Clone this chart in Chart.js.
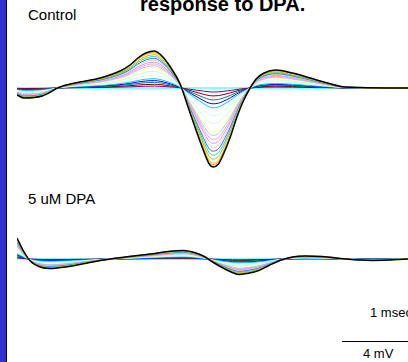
<!DOCTYPE html>
<html>
<head>
<meta charset="utf-8">
<script src="https://cdn.jsdelivr.net/npm/chart.js@4.4.1/dist/chart.umd.min.js"></script>
<style>
  html, body { margin: 0; padding: 0; background: #fff; width: 408px; height: 362px; overflow: hidden; }
  body { position: relative; font-family: "Liberation Sans", Arial, sans-serif; }
  .bar { position: absolute; left: 0; top: 0; width: 6px; height: 362px; background: #3333CC; }
  .barEdge { position: absolute; left: 6px; top: 0; width: 1px; height: 362px; background: #000; }
  .lbl { position: absolute; white-space: nowrap; color: #000; }
  #title { left: 140px; top: -6.5px; font-size: 20px; line-height: 20px; font-weight: bold; }
  #lblControl { left: 28px; top: 6.5px; font-size: 15px; line-height: 15px; }
  #lblDPA { left: 28px; top: 190.6px; font-size: 15px; line-height: 15px; }
  #lblTime { left: 370px; top: 306.3px; font-size: 13px; line-height: 13px; }
  #lblVolt { left: 363px; top: 347.3px; font-size: 13px; line-height: 13px; }
  #scaleBar { position: absolute; left: 342px; top: 341px; width: 66px; height: 1px; background: #000; }
  #cCtrl { position: absolute; left: 17px; top: 0px; }
  #cDPA { position: absolute; left: 17px; top: 200px; }
</style>
</head>
<body>
<div class="bar"></div><div class="barEdge"></div>
<div class="lbl" id="title">response to DPA.</div>
<div class="lbl" id="lblControl">Control</div>
<div class="lbl" id="lblDPA">5 uM DPA</div>
<div class="lbl" id="lblTime">1 msec</div>
<div id="scaleBar"></div>
<div class="lbl" id="lblVolt">4 mV</div>
<canvas id="cCtrl" width="391" height="181"></canvas>
<canvas id="cDPA" width="391" height="120"></canvas>
<script>
// time axis (msec)
const timeControl = [0,0.11,0.38,0.65,0.95,1.26,1.56,1.71,1.83,1.95,2.08,2.18,2.27,2.38,2.47,2.59,2.71,2.82,2.91,2.97,3.05,3.12,3.23,3.33,3.42,3.53,3.62,3.74,3.92,4.17,4.44,4.70,4.97,5.92];
const timeDPA = [0,0.09,0.2,0.35,0.5,0.73,0.95,1.26,1.64,2.02,2.29,2.52,2.71,2.85,2.95,3.12,3.26,3.36,3.48,3.64,3.8,3.98,4.17,4.36,4.62,4.97,5.38,5.92];

// Control traces (mV)
const ctrlBlack = [-0.7,-1,-0.8,0.1,0.6,1,1.7,2.3,3,3.5,3.7,3.3,2.6,1.5,0.4,-1.9,-4.2,-6.2,-7.6,-7.9,-7.6,-6.7,-4.9,-2.9,-1.4,0,0.9,1.5,1.8,1.5,1,0.5,0.1,0];
const ctrlOrange = [-0.68,-0.97,-0.78,0.1,0.58,0.97,1.65,2.23,2.91,3.4,3.59,3.2,2.52,1.46,0.39,-1.84,-4.07,-6.01,-7.37,-7.66,-7.37,-6.5,-4.75,-2.81,-1.36,0,0.87,1.46,1.75,1.46,0.97,0.49,0.1,0];
const ctrlGold = [-0.67,-0.95,-0.76,0.1,0.57,0.95,1.62,2.19,2.85,3.33,3.52,3.14,2.47,1.43,0.38,-1.81,-3.99,-5.89,-7.22,-7.51,-7.22,-6.37,-4.66,-2.76,-1.33,0,0.86,1.43,1.71,1.43,0.95,0.48,0.1,0];
const ctrlLime = [-0.63,-0.9,-0.72,0.09,0.54,0.9,1.53,2.07,2.7,3.15,3.33,2.97,2.34,1.35,0.36,-1.71,-3.78,-5.58,-6.84,-7.11,-6.84,-6.03,-4.41,-2.61,-1.26,0,0.81,1.35,1.62,1.35,0.9,0.45,0.09,0];
const ctrlAqua = [-0.6,-0.85,-0.68,0.09,0.51,0.85,1.45,1.96,2.55,2.98,3.15,2.81,2.21,1.28,0.34,-1.62,-3.57,-5.27,-6.46,-6.72,-6.46,-5.7,-4.17,-2.47,-1.19,0,0.77,1.28,1.53,1.28,0.85,0.43,0.09,0];
const ctrlRoyal = [-0.56,-0.8,-0.64,0.08,0.48,0.8,1.36,1.84,2.4,2.8,2.96,2.64,2.08,1.2,0.32,-1.52,-3.36,-4.96,-6.08,-6.32,-6.08,-5.36,-3.92,-2.32,-1.12,0,0.72,1.2,1.44,1.2,0.8,0.4,0.08,0];
const ctrlTan = [-0.53,-0.75,-0.6,0.08,0.45,0.75,1.28,1.73,2.25,2.63,2.78,2.48,1.95,1.13,0.3,-1.43,-3.15,-4.65,-5.7,-5.93,-5.7,-5.03,-3.68,-2.18,-1.05,0,0.68,1.13,1.35,1.13,0.75,0.38,0.08,0];
const ctrlLavender = [-0.49,-0.7,-0.56,0.07,0.42,0.7,1.19,1.61,2.1,2.45,2.59,2.31,1.82,1.05,0.28,-1.33,-2.94,-4.34,-5.32,-5.53,-5.32,-4.69,-3.43,-2.03,-0.98,0,0.63,1.05,1.26,1.05,0.7,0.35,0.07,0];
const ctrlPink = [-0.46,-0.65,-0.52,0.07,0.39,0.65,1.11,1.5,1.95,2.28,2.41,2.15,1.69,0.98,0.26,-1.24,-2.73,-4.03,-4.94,-5.14,-4.94,-4.36,-3.19,-1.89,-0.91,0,0.59,0.98,1.17,0.98,0.65,0.33,0.07,0];
const ctrlPaleBlue = [-0.42,-0.6,-0.48,0.06,0.36,0.6,1.02,1.38,1.8,2.1,2.22,1.98,1.56,0.9,0.24,-1.14,-2.52,-3.72,-4.56,-4.74,-4.56,-4.02,-2.94,-1.74,-0.84,0,0.54,0.9,1.08,0.9,0.6,0.3,0.06,0];
const ctrlLightYellow = [-0.39,-0.55,-0.44,0.06,0.33,0.55,0.94,1.27,1.65,1.93,2.04,1.82,1.43,0.83,0.22,-1.05,-2.31,-3.41,-4.18,-4.35,-4.18,-3.69,-2.7,-1.6,-0.77,0,0.5,0.83,0.99,0.83,0.55,0.28,0.06,0];
const ctrlLightGreen = [-0.32,-0.45,-0.36,0.05,0.27,0.45,0.77,1.04,1.35,1.58,1.67,1.49,1.17,0.68,0.18,-0.86,-1.89,-2.79,-3.42,-3.56,-3.42,-3.02,-2.21,-1.31,-0.63,0,0.41,0.68,0.81,0.68,0.45,0.23,0.05,0];
const ctrlLightCyan = [-0.25,-0.35,-0.28,0.04,0.21,0.35,0.6,0.81,1.05,1.23,1.3,1.16,0.91,0.53,0.14,-0.67,-1.47,-2.17,-2.66,-2.77,-2.66,-2.35,-1.72,-1.02,-0.49,0,0.32,0.53,0.63,0.53,0.35,0.18,0.04,0];
const ctrlSkyBlue = [-0.18,-0.25,-0.2,0.03,0.15,0.25,0.43,0.58,0.75,0.88,0.93,0.83,0.65,0.38,0.1,-0.48,-1.05,-1.55,-1.9,-1.98,-1.9,-1.68,-1.23,-0.73,-0.35,0,0.23,0.38,0.45,0.38,0.25,0.13,0.03,0];
const ctrlBlue = [-0.14,-0.2,-0.16,0.02,0.12,0.2,0.34,0.46,0.6,0.7,0.74,0.66,0.52,0.3,0.08,-0.38,-0.84,-1.24,-1.52,-1.58,-1.52,-1.34,-0.98,-0.58,-0.28,0,0.18,0.3,0.36,0.3,0.2,0.1,0.02,0];
const ctrlTeal = [-0.11,-0.15,-0.12,0.02,0.09,0.15,0.26,0.35,0.45,0.53,0.56,0.5,0.39,0.23,0.06,-0.29,-0.63,-0.93,-1.14,-1.19,-1.14,-1.01,-0.74,-0.44,-0.21,0,0.14,0.23,0.27,0.23,0.15,0.08,0.02,0];
const ctrlMaroon = [-0.07,-0.1,-0.08,0.01,0.06,0.1,0.17,0.23,0.3,0.35,0.37,0.33,0.26,0.15,0.04,-0.19,-0.42,-0.62,-0.76,-0.79,-0.76,-0.67,-0.49,-0.29,-0.14,0,0.09,0.15,0.18,0.15,0.1,0.05,0.01,0];
const ctrlPurple = [-0.04,-0.05,-0.04,0.01,0.03,0.05,0.09,0.12,0.15,0.18,0.19,0.17,0.13,0.08,0.02,-0.1,-0.21,-0.31,-0.38,-0.4,-0.38,-0.34,-0.25,-0.15,-0.07,0,0.05,0.08,0.09,0.08,0.05,0.03,0.01,0];
const ctrlCyan = [0,0,0,0,0,0,0,0,0,0,0,0,0,0,0,0,0,0,0,0,0,0,0,0,0,0,0,0,0,0,0,0,0,0];

// 5 uM DPA traces (mV)
const dpaBlack = [2.1,0.9,-0.2,-0.8,-0.95,-0.8,-0.55,-0.15,0.2,0.5,0.75,0.85,0.6,0.2,-0.25,-0.9,-1.35,-1.55,-1.45,-1.2,-0.7,-0.15,0.2,0.3,0.25,0,-0.15,0];
const dpaOrange = [2.04,0.87,-0.19,-0.78,-0.92,-0.78,-0.53,-0.15,0.19,0.49,0.73,0.82,0.58,0.19,-0.24,-0.87,-1.31,-1.5,-1.41,-1.16,-0.68,-0.15,0.19,0.29,0.24,0,-0.15,0];
const dpaGold = [2.0,0.86,-0.19,-0.76,-0.9,-0.76,-0.52,-0.14,0.19,0.48,0.71,0.81,0.57,0.19,-0.24,-0.86,-1.28,-1.47,-1.38,-1.14,-0.67,-0.14,0.19,0.29,0.24,0,-0.14,0];
const dpaLime = [1.89,0.81,-0.18,-0.72,-0.86,-0.72,-0.5,-0.14,0.18,0.45,0.68,0.77,0.54,0.18,-0.23,-0.81,-1.22,-1.4,-1.31,-1.08,-0.63,-0.14,0.18,0.27,0.23,0,-0.14,0];
const dpaAqua = [1.79,0.77,-0.17,-0.68,-0.81,-0.68,-0.47,-0.13,0.17,0.43,0.64,0.72,0.51,0.17,-0.21,-0.77,-1.15,-1.32,-1.23,-1.02,-0.6,-0.13,0.17,0.26,0.21,0,-0.13,0];
const dpaRoyal = [1.68,0.72,-0.16,-0.64,-0.76,-0.64,-0.44,-0.12,0.16,0.4,0.6,0.68,0.48,0.16,-0.2,-0.72,-1.08,-1.24,-1.16,-0.96,-0.56,-0.12,0.16,0.24,0.2,0,-0.12,0];
const dpaTan = [1.58,0.68,-0.15,-0.6,-0.71,-0.6,-0.41,-0.11,0.15,0.38,0.56,0.64,0.45,0.15,-0.19,-0.68,-1.01,-1.16,-1.09,-0.9,-0.53,-0.11,0.15,0.23,0.19,0,-0.11,0];
const dpaLavender = [1.47,0.63,-0.14,-0.56,-0.67,-0.56,-0.39,-0.11,0.14,0.35,0.53,0.6,0.42,0.14,-0.18,-0.63,-0.95,-1.09,-1.02,-0.84,-0.49,-0.11,0.14,0.21,0.18,0,-0.11,0];
const dpaPink = [1.37,0.59,-0.13,-0.52,-0.62,-0.52,-0.36,-0.1,0.13,0.33,0.49,0.55,0.39,0.13,-0.16,-0.59,-0.88,-1.01,-0.94,-0.78,-0.46,-0.1,0.13,0.2,0.16,0,-0.1,0];
const dpaPaleBlue = [1.26,0.54,-0.12,-0.48,-0.57,-0.48,-0.33,-0.09,0.12,0.3,0.45,0.51,0.36,0.12,-0.15,-0.54,-0.81,-0.93,-0.87,-0.72,-0.42,-0.09,0.12,0.18,0.15,0,-0.09,0];
const dpaLightYellow = [1.16,0.5,-0.11,-0.44,-0.52,-0.44,-0.3,-0.08,0.11,0.28,0.41,0.47,0.33,0.11,-0.14,-0.5,-0.74,-0.85,-0.8,-0.66,-0.39,-0.08,0.11,0.17,0.14,0,-0.08,0];
const dpaLightGreen = [0.95,0.41,-0.09,-0.36,-0.43,-0.36,-0.25,-0.07,0.09,0.23,0.34,0.38,0.27,0.09,-0.11,-0.41,-0.61,-0.7,-0.65,-0.54,-0.32,-0.07,0.09,0.14,0.11,0,-0.07,0];
const dpaLightCyan = [0.74,0.32,-0.07,-0.28,-0.33,-0.28,-0.19,-0.05,0.07,0.18,0.26,0.3,0.21,0.07,-0.09,-0.32,-0.47,-0.54,-0.51,-0.42,-0.25,-0.05,0.07,0.11,0.09,0,-0.05,0];
const dpaSkyBlue = [0.53,0.23,-0.05,-0.2,-0.24,-0.2,-0.14,-0.04,0.05,0.13,0.19,0.21,0.15,0.05,-0.06,-0.23,-0.34,-0.39,-0.36,-0.3,-0.18,-0.04,0.05,0.08,0.06,0,-0.04,0];
const dpaBlue = [0.42,0.18,-0.04,-0.16,-0.19,-0.16,-0.11,-0.03,0.04,0.1,0.15,0.17,0.12,0.04,-0.05,-0.18,-0.27,-0.31,-0.29,-0.24,-0.14,-0.03,0.04,0.06,0.05,0,-0.03,0];
const dpaTeal = [0.32,0.14,-0.03,-0.12,-0.14,-0.12,-0.08,-0.02,0.03,0.08,0.11,0.13,0.09,0.03,-0.04,-0.14,-0.2,-0.23,-0.22,-0.18,-0.11,-0.02,0.03,0.05,0.04,0,-0.02,0];
const dpaMaroon = [0.21,0.09,-0.02,-0.08,-0.1,-0.08,-0.06,-0.02,0.02,0.05,0.08,0.09,0.06,0.02,-0.03,-0.09,-0.14,-0.16,-0.15,-0.12,-0.07,-0.02,0.02,0.03,0.03,0,-0.02,0];
const dpaPurple = [0.11,0.05,-0.01,-0.04,-0.05,-0.04,-0.03,-0.01,0.01,0.03,0.04,0.04,0.03,0.01,-0.01,-0.05,-0.07,-0.08,-0.07,-0.06,-0.04,-0.01,0.01,0.02,0.01,0,-0.01,0];
const dpaCyan = [0,0,0,0,0,0,0,0,0,0,0,0,0,0,0,0,0,0,0,0,0,0,0,0,0,0,0,0];

// trace colours, from the largest response to the smallest
const traceColors = ['#000000','#FF9900','#FFCC00','#99CC00','#33CCCC','#3366FF','#FFCC99','#CC99FF','#FF99CC','#99CCFF','#FFFF99','#CCFFCC','#CCFFFF','#00CCFF','#0000FF','#008080','#800000','#800080','#00FFFF'];

const ctrlSeries = [ctrlBlack,ctrlOrange,ctrlGold,ctrlLime,ctrlAqua,ctrlRoyal,ctrlTan,ctrlLavender,ctrlPink,ctrlPaleBlue,ctrlLightYellow,ctrlLightGreen,ctrlLightCyan,ctrlSkyBlue,ctrlBlue,ctrlTeal,ctrlMaroon,ctrlPurple,ctrlCyan];
const dpaSeries = [dpaBlack,dpaOrange,dpaGold,dpaLime,dpaAqua,dpaRoyal,dpaTan,dpaLavender,dpaPink,dpaPaleBlue,dpaLightYellow,dpaLightGreen,dpaLightCyan,dpaSkyBlue,dpaBlue,dpaTeal,dpaMaroon,dpaPurple,dpaCyan];

function makeDatasets(times, seriesList) {
  return seriesList.map((vals, i) => ({
    data: vals.map((v, j) => ({ x: times[j], y: v })),
    borderColor: traceColors[i],
    borderWidth: i === 0 ? 1.5 : 1,
    pointRadius: 0,
    fill: false,
    cubicInterpolationMode: 'monotone',
    clip: 4
  }));
}

function makeChart(id, times, seriesList, yMin, yMax) {
  return new Chart(document.getElementById(id), {
    type: 'line',
    data: { datasets: makeDatasets(times, seriesList) },
    options: {
      responsive: false,
      animation: false,
      devicePixelRatio: 1,
      layout: { padding: 0 },
      plugins: { legend: { display: false }, tooltip: { enabled: false }, title: { display: false } },
      scales: {
        x: { type: 'linear', min: 0, max: 5.92, display: false },
        y: { type: 'linear', min: yMin, max: yMax, display: false }
      }
    }
  });
}

makeChart('cCtrl', timeControl, ctrlSeries, -9.3, 8.8);
makeChart('cDPA', timeDPA, dpaSeries, -6.1, 5.9);
</script>
</body>
</html>
